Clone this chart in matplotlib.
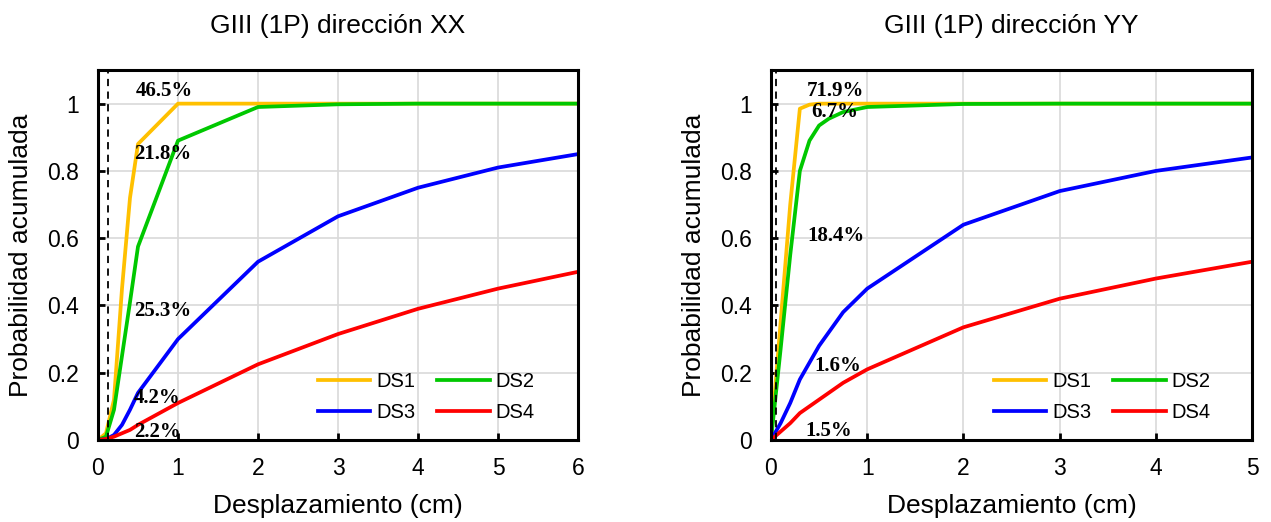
import matplotlib
matplotlib.use("Agg")
import matplotlib.pyplot as plt
from matplotlib.ticker import FuncFormatter

# datos direccion XX
x_xx = [0, 0.1, 0.2, 0.3, 0.4, 0.5, 1, 2, 3, 4, 5, 6]
ds1_xx = [0, 0.02, 0.12, 0.45, 0.72, 0.88, 1.0, 1.0, 1.0, 1.0, 1.0, 1.0]
ds2_xx = [0, 0.01, 0.09, 0.25, 0.41, 0.575, 0.89, 0.99, 0.998, 1.0, 1.0, 1.0]
ds3_xx = [0, 0.002, 0.015, 0.045, 0.09, 0.14, 0.30, 0.53, 0.665, 0.75, 0.81, 0.85]
ds4_xx = [0, 0.003, 0.01, 0.02, 0.03, 0.045, 0.11, 0.225, 0.315, 0.39, 0.45, 0.50]
dash_xx = 0.125
labels_xx = ["46.5%", "21.8%", "25.3%", "4.2%", "2.2%"]
lab_pos_xx = [(0.475, 1.039), (0.45, 0.851), (0.45, 0.384), (0.45, 0.125), (0.45, 0.024)]

# datos direccion YY
x_yy = [0, 0.1, 0.2, 0.3, 0.4, 0.5, 0.6, 0.75, 1, 2, 3, 4, 5]
ds1_yy = [0, 0.35, 0.70, 0.985, 0.997, 1.0, 1.0, 1.0, 1.0, 1.0, 1.0, 1.0, 1.0]
ds2_yy = [0, 0.27, 0.55, 0.80, 0.89, 0.935, 0.955, 0.975, 0.99, 0.999, 1.0, 1.0, 1.0]
ds3_yy = [0, 0.05, 0.11, 0.18, 0.23, 0.28, 0.32, 0.38, 0.45, 0.64, 0.74, 0.80, 0.84]
ds4_yy = [0, 0.025, 0.05, 0.08, 0.10, 0.12, 0.14, 0.17, 0.21, 0.335, 0.42, 0.48, 0.53]
dash_yy = 0.05
labels_yy = ["71.9%", "6.7%", "18.4%", "1.6%", "1.5%"]
lab_pos_yy = [(0.375, 1.039), (0.417, 0.976), (0.375, 0.607), (0.45, 0.22), (0.354, 0.027)]

names = ["DS1", "DS2", "DS3", "DS4"]
colors = ["#FFC000", "#00C800", "#0000FF", "#FF0000"]

plt.rcParams['font.family'] = ['Liberation Sans', 'DejaVu Sans']

fig = plt.figure(figsize=(12.71, 5.22), dpi=100)
ax1 = fig.add_axes([0.0771, 0.1571, 0.3777, 0.7088])
ax2 = fig.add_axes([0.6066, 0.1571, 0.3785, 0.7088])

panels = [
    (ax1, x_xx, [ds1_xx, ds2_xx, ds3_xx, ds4_xx], dash_xx, labels_xx, lab_pos_xx, 6, "GIII (1P) dirección XX", 0.948),
    (ax2, x_yy, [ds1_yy, ds2_yy, ds3_yy, ds4_yy], dash_yy, labels_yy, lab_pos_yy, 5, "GIII (1P) dirección YY", 0.952),
]

for ax, xs, series, dash, labs, pos, xmax, title, leg_x in panels:
    lines = []
    for ys, name, c in zip(series, names, colors):
        l, = ax.plot(xs, ys, color=c, lw=2.7, label=name)
        lines.append(l)
    ax.axvline(dash, color="black", lw=1.3, ls=(0, (4, 3)))
    for t, (px, py) in zip(labs, pos):
        ax.text(px, py, t, fontsize=15, fontweight="bold", family=["Liberation Serif", "DejaVu Serif"],
                ha="left", va="center")
    ax.set_xlim(0, xmax)
    ax.set_ylim(0, 1.1)
    ax.set_xticks(range(xmax + 1))
    ax.set_yticks([0, 0.2, 0.4, 0.6, 0.8, 1.0])
    ax.yaxis.set_major_formatter(FuncFormatter(lambda v, p: "%g" % round(v, 1)))
    ax.grid(True, color="#d9d9d9", lw=1.2)
    ax.set_axisbelow(True)
    for s in ax.spines.values():
        s.set_linewidth(2.2)
    ax.tick_params(direction="in", length=5, width=2, labelsize=16.5)
    ax.tick_params(axis="y", pad=14)
    ax.tick_params(axis="x", pad=12)
    ax.set_xlabel("Desplazamiento (cm)", fontsize=19, labelpad=10)
    ax.set_ylabel("Probabilidad acumulada", fontsize=19, labelpad=10)
    ax.set_title(title, fontsize=19, pad=27)
    # legend filled row by row: DS1 DS2 / DS3 DS4
    order = [0, 2, 1, 3]
    ax.legend([lines[i] for i in order], [names[i] for i in order], ncol=2, frameon=False,
              fontsize=14.5, loc="lower right", bbox_to_anchor=(leg_x, 0.0),
              handlelength=2.6, handletextpad=0.3, columnspacing=1.1, labelspacing=0.6)

fig.savefig("out.png", dpi=100)
